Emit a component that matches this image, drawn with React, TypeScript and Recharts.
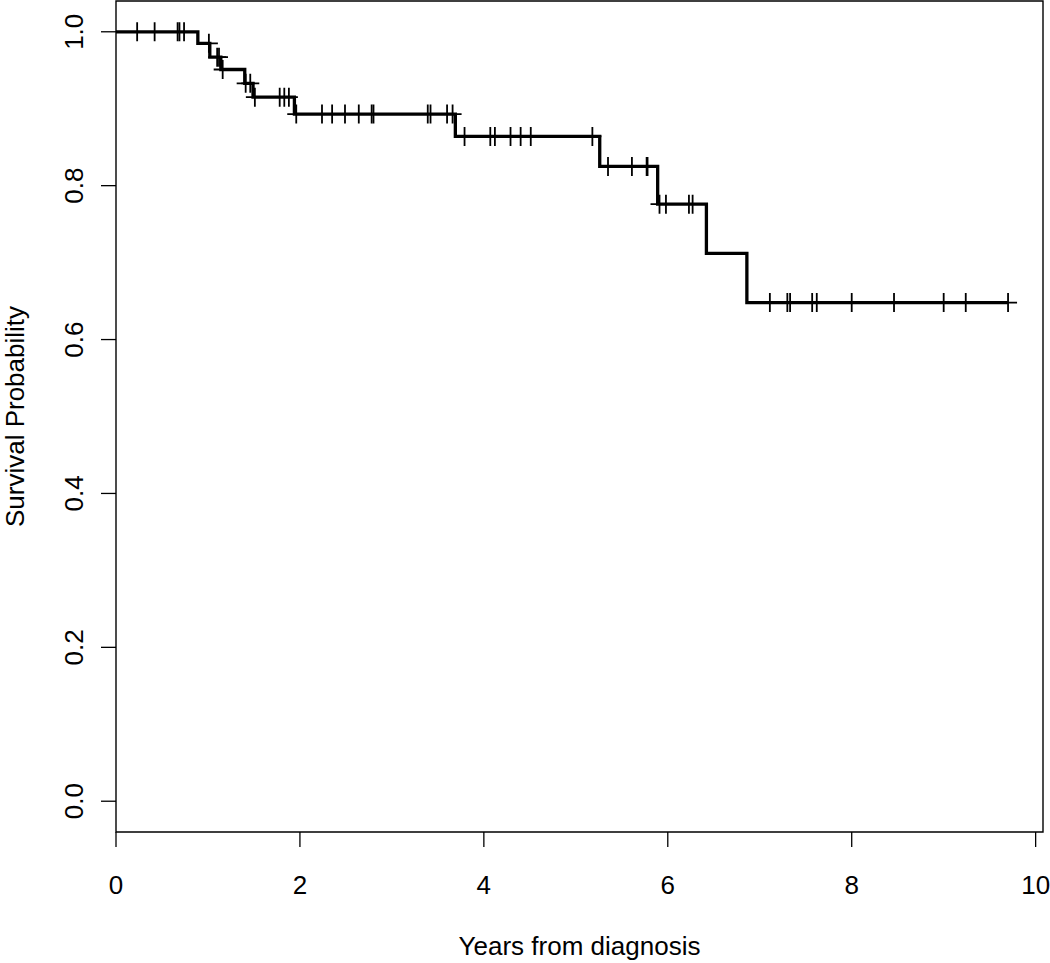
import { ComposedChart, Line, Scatter, XAxis, YAxis, ReferenceArea } from 'recharts';

const FONT = '"Liberation Sans", Arial, Helvetica, sans-serif';

// Kaplan-Meier steps: time of each drop and survival right after it
const eventTimes = [0, 0.89, 1.02, 1.14, 1.4, 1.49, 1.94, 3.69, 5.26, 5.89, 6.42, 6.86];
const survival = [1.0, 0.985, 0.967, 0.951, 0.933, 0.915, 0.893, 0.864, 0.825, 0.776, 0.712, 0.648];
const lastFollowUp = 9.7;

// censored observations (drawn as +)
const censorTimes = [
  0.23, 0.42, 0.67, 0.69, 0.74, 1.01, 1.1, 1.12, 1.16, 1.41, 1.46, 1.51, 1.78, 1.83, 1.88,
  1.96, 2.24, 2.35, 2.49, 2.64, 2.78, 2.8, 3.39, 3.42, 3.6, 3.66, 3.79, 4.07, 4.12, 4.29,
  4.4, 4.51, 5.18, 5.35, 5.61, 5.77, 5.78, 5.91, 5.98, 6.23, 6.27, 7.11, 7.3, 7.33, 7.57,
  7.62, 8.0, 8.46, 9.0, 9.24, 9.7,
];

const xTicks = [0, 2, 4, 6, 8, 10];
const yTicks = [0, 0.2, 0.4, 0.6, 0.8, 1.0];
const xDomain: [number, number] = [0, 10.08];
const yDomain: [number, number] = [-0.04, 1.04];

const survAt = (t: number) => {
  let s = 1;
  eventTimes.forEach((e, i) => {
    if (e <= t) s = survival[i];
  });
  return s;
};

const curve = [
  ...eventTimes.map((t, i) => ({ t, s: survival[i] })),
  { t: lastFollowUp, s: survival[survival.length - 1] },
];
const censored = censorTimes.map((t) => ({ t, s: survAt(t) }));

const PlusMark = (props: any) => {
  const { cx, cy } = props;
  if (cx == null || cy == null) return null;
  return (
    <path
      d={`M${cx - 9},${cy}H${cx + 9}M${cx},${cy - 9.5}V${cy + 9.5}`}
      stroke="#000"
      strokeWidth={1.8}
      fill="none"
    />
  );
};

const textStyle = { fontFamily: FONT, fontSize: 26, fill: '#000' };

export default function App() {
  return (
    <div style={{ position: 'absolute', left: 0, top: 0, width: 1050, height: 963, background: '#fff' }}>
      <ComposedChart width={1050} height={963} margin={{ top: 1, right: 7, bottom: 0, left: 0 }}>
        <XAxis
          type="number"
          dataKey="t"
          domain={xDomain}
          allowDataOverflow
          ticks={xTicks}
          height={131}
          tickSize={15}
          axisLine={false}
          tickLine={{ stroke: '#000', strokeWidth: 1.3 }}
          tick={(p: any) => (
            <text x={p.x} y={894} textAnchor="middle" style={textStyle}>
              {p.payload.value}
            </text>
          )}
          label={{
            content: () => (
              <text x={579.5} y={955} textAnchor="middle" style={textStyle}>
                Years from diagnosis
              </text>
            ),
          }}
        />
        <YAxis
          type="number"
          dataKey="s"
          domain={yDomain}
          allowDataOverflow
          ticks={yTicks}
          width={116}
          tickSize={15}
          axisLine={false}
          tickLine={{ stroke: '#000', strokeWidth: 1.3 }}
          tick={(p: any) => (
            <text transform={`translate(83,${p.y}) rotate(-90)`} textAnchor="middle" style={textStyle}>
              {Number(p.payload.value).toFixed(1)}
            </text>
          )}
          label={{
            content: () => (
              <text transform="translate(24,416.5) rotate(-90)" textAnchor="middle" style={textStyle}>
                Survival Probability
              </text>
            ),
          }}
        />
        <ReferenceArea
          x1={xDomain[0]}
          x2={xDomain[1]}
          y1={yDomain[0]}
          y2={yDomain[1]}
          fill="none"
          fillOpacity={0}
          stroke="#000"
          strokeWidth={1.4}
          ifOverflow="visible"
        />
        <Line
          data={curve}
          dataKey="s"
          type="stepAfter"
          stroke="#000"
          strokeWidth={3.3}
          dot={false}
          activeDot={false}
          isAnimationActive={false}
        />
        <Scatter data={censored} dataKey="s" shape={PlusMark} isAnimationActive={false} />
      </ComposedChart>
    </div>
  );
}
